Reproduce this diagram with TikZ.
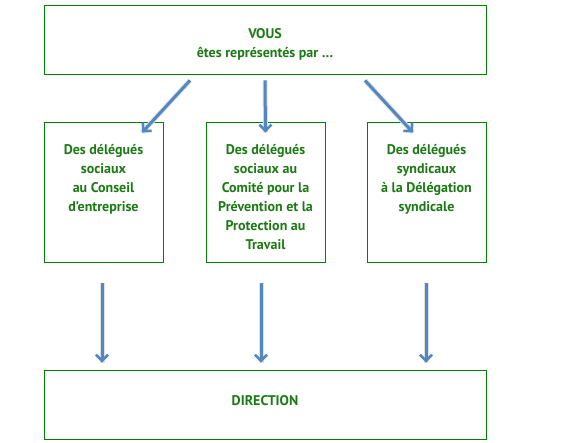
\documentclass[tikz,border=0pt]{standalone}
\usepackage{fontspec}
\setmainfont{PT Sans}
\usetikzlibrary{arrows.meta,positioning,shadows}
\definecolor{vert}{RGB}{0,128,0}
\definecolor{txtvert}{RGB}{28,122,20}
\definecolor{bleu}{RGB}{84,134,194}

\begin{document}
\begin{tikzpicture}[x=1pt,y=-1pt,
  box/.style={draw=vert,fill=white,line width=0.9pt,inner sep=0pt},
  smallbox/.style={box,minimum width=119pt,minimum height=140pt,
    general shadow={fill=black!75,shadow xshift=1.2pt,shadow yshift=-1.2pt}},
  wide/.style={box,minimum width=442pt,minimum height=69pt},
  txt/.style={text=txtvert,font=\bfseries\fontsize{14}{19}\selectfont,align=center,inner sep=0pt},
  flow/.style={draw=bleu,line width=3pt,-{Straight Barb[length=6pt,width=12pt,line width=2.6pt]},
    preaction={draw=black!12,line width=5pt,-}}]
\useasboundingbox(0,0)rectangle(568,443);
\node[wide](vous)at(265,39.5){};
\node[txt](vousTxt)at([yshift=-5pt]vous.center){VOUS\\êtes représentés par …};
\node[smallbox](cse)at(103.5,192){};
\node[smallbox](cppt)at(265.5,192){};
\node[smallbox](ds)at(426.5,192){};
\node[txt,below=23pt of cse.north](cseTxt){Des délégués\\sociaux\\au Conseil\\d’entreprise};
\node[txt,below=23pt of cppt.north](cpptTxt){Des délégués\\sociaux au\\Comité pour la\\Prévention et la\\Protection au\\Travail};
\node[txt,below=23pt of ds.north](dsTxt){Des délégués\\syndicaux\\à la Délégation\\syndicale};
\node[wide](dir)at(265,404.5){};
\node[txt](dirTxt)at([yshift=4pt]dir.center){DIRECTION};
% de VOUS vers les trois organes
\draw[flow]([shift={(-75,6)}]vous.south)--([shift={(38.5,11)}]cse.north);
\draw[flow]([shift={(0,6)}]vous.south)--([shift={(0,11)}]cppt.north);
\draw[flow]([shift={(100,6)}]vous.south)--([shift={(-13.5,11)}]ds.north);
% vers la direction
\foreach \n/\dx in {cse/-1.5,cppt/-4.5,ds/-0.5}
  \draw[flow,shorten >=7pt]([shift={(\dx,21)}]\n.south)--([shift={(\dx,0)}]\n.south|-dir.north);
\end{tikzpicture}
\end{document}
